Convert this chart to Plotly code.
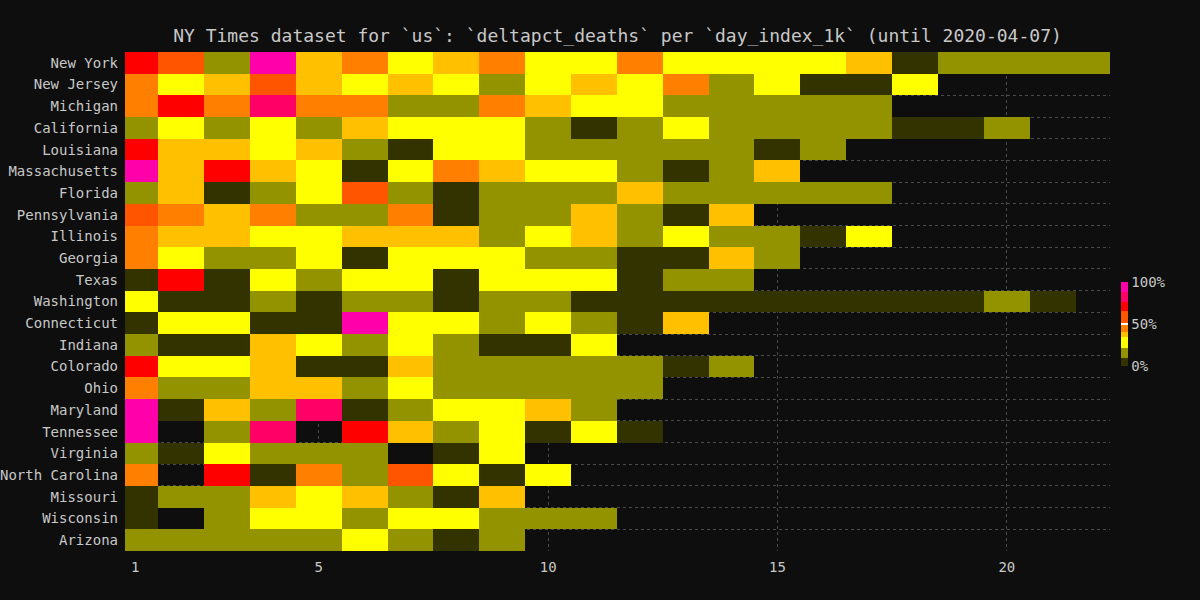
import plotly.graph_objects as go

# ---- data ----
states = ["New York", "New Jersey", "Michigan", "California", "Louisiana",
          "Massachusetts", "Florida", "Pennsylvania", "Illinois", "Georgia",
          "Texas", "Washington", "Connecticut", "Indiana", "Colorado", "Ohio",
          "Maryland", "Tennessee", "Virginia", "North Carolina", "Missouri",
          "Wisconsin", "Arizona"]
day_index = list(range(1, 23))

new_york = [71, 57, 16, 95, 37, 45, 28, 38, 44, 27, 30, 46, 29, 26, 31, 28, 36, 4, 15, 17, 18, 16]
new_jersey = [44, 29, 37, 59, 38, 27, 36, 30, 16, 28, 37, 31, 46, 18, 27, 6, 4, 29]
michigan = [46, 70, 44, 83, 45, 43, 17, 15, 47, 38, 29, 27, 16, 18, 14, 17, 15]
california = [16, 28, 17, 30, 15, 37, 27, 29, 31, 16, 5, 18, 28, 15, 17, 16, 14, 6, 7, 17]
louisiana = [72, 38, 36, 29, 37, 16, 5, 28, 30, 17, 15, 16, 18, 14, 6, 17]
massachusetts = [93, 37, 71, 38, 29, 4, 27, 45, 36, 30, 28, 16, 6, 17, 38]
florida = [16, 38, 5, 17, 29, 57, 15, 6, 16, 18, 17, 37, 15, 16, 17, 14, 16]
pennsylvania = [58, 45, 37, 46, 17, 15, 44, 5, 16, 18, 38, 15, 6, 36]
illinois = [45, 38, 37, 28, 30, 36, 38, 37, 16, 29, 38, 17, 27, 15, 16, 5, 29]
georgia = [46, 28, 17, 16, 30, 6, 29, 27, 31, 16, 17, 5, 4, 37, 15]
texas = [5, 70, 6, 28, 16, 30, 29, 4, 27, 29, 31, 5, 17, 15]
washington = [29, 5, 6, 16, 4, 17, 15, 5, 16, 18, 6, 5, 4, 6, 5, 3, 4, 6, 5, 17, 6]
connecticut = [5, 29, 28, 6, 4, 94, 30, 27, 16, 29, 17, 5, 37]
indiana = [16, 5, 6, 38, 29, 17, 28, 15, 4, 6, 30]
colorado = [71, 29, 28, 37, 5, 6, 38, 16, 17, 15, 16, 18, 5, 17]
ohio = [45, 16, 17, 37, 38, 15, 29, 16, 17, 15, 16, 18]
maryland = [93, 5, 37, 16, 82, 6, 17, 29, 28, 38, 16]
tennessee = [95, None, 16, 81, None, 72, 37, 17, 29, 5, 28, 6]
virginia = [16, 5, 29, 17, 15, 16, None, 6, 28]
north_carolina = [46, None, 70, 5, 44, 17, 57, 29, 6, 30]
missouri = [5, 16, 17, 37, 29, 38, 15, 6, 36]
wisconsin = [6, None, 16, 28, 30, 17, 29, 27, 16, 15, 17]
arizona = [16, 17, 15, 16, 18, 29, 17, 5, 16]

rows = [new_york, new_jersey, michigan, california, louisiana, massachusetts,
        florida, pennsylvania, illinois, georgia, texas, washington,
        connecticut, indiana, colorado, ohio, maryland, tennessee, virginia,
        north_carolina, missouri, wisconsin, arizona]

x_ticks = [1, 5, 10, 15, 20]
cbar_ticks = [0, 50, 100]

# ---- styling ----
BG = "#0e0e0e"
TXT = "#c8c8c8"
GRID = "#4a4a4a"
FONT = "DejaVu Sans Mono"

bands = [(0, 10, "#333300"), (10, 22, "#939300"), (22, 34, "#ffff00"),
         (34, 40, "#ffc000"), (40, 50, "#ff8000"), (50, 66, "#ff5500"),
         (66, 76, "#ff0000"), (76, 88, "#ff0066"), (88, 100, "#ff00aa")]
colorscale = []
for lo, hi, c in bands:
    colorscale.append([lo / 100, c])
    colorscale.append([hi / 100, c])

z = [r + [None] * (len(day_index) - len(r)) for r in rows]
y_pos = list(range(len(states)))

fig = go.Figure(go.Heatmap(
    x=day_index, y=y_pos, z=z,
    zmin=0, zmax=100, colorscale=colorscale,
    hoverongaps=False,
    colorbar=dict(
        thickness=7, len=84, lenmode="pixels",
        x=1.011, xanchor="left", xpad=0,
        y=0.454, yanchor="middle", ypad=0,
        outlinewidth=0,
        tickmode="array", tickvals=cbar_ticks,
        ticktext=[f"{v}%" for v in cbar_ticks],
        ticks="inside", ticklen=7, tickcolor="white", tickwidth=2,
        tickfont=dict(family=FONT, size=14, color=TXT),
    ),
))

fig.update_layout(
    width=1200, height=600,
    paper_bgcolor=BG, plot_bgcolor=BG,
    margin=dict(l=125, r=90, t=52, b=49),
    font=dict(family=FONT, size=14, color=TXT),
    title=dict(
        text="NY Times dataset for `us`: `deltapct_deaths` per `day_index_1k` (until 2020-04-07)",
        x=0.5, xref="paper", xanchor="center",
        y=1 - 36 / 600, yref="container", yanchor="middle",
        font=dict(family=FONT, size=18, color=TXT),
    ),
)

fig.update_xaxes(
    range=[0.775, 22.25],
    tickvals=x_ticks, ticktext=[str(v) for v in x_ticks],
    showgrid=True, gridcolor=GRID, griddash="dot", gridwidth=1,
    zeroline=False, showline=False, ticks="", ticklabelstandoff=6,
    automargin=False,
    tickfont=dict(family=FONT, size=14, color=TXT),
)
fig.update_yaxes(
    range=[len(states) - 0.5, -0.5],
    tickvals=y_pos, ticktext=states,
    showgrid=False, zeroline=False, showline=False, ticks="",
    ticklabelstandoff=6, automargin=False,
    tickfont=dict(family=FONT, size=14, color=TXT),
    minor=dict(tickvals=[i + 0.5 for i in range(len(states) - 1)],
               showgrid=True, gridcolor=GRID, griddash="dot", gridwidth=1,
               ticks=""),
)

fig.write_html(
    "out.html",
    config={"displayModeBar": False},
    post_script="document.body.style.margin='0';document.body.style.background='#0e0e0e';",
)
